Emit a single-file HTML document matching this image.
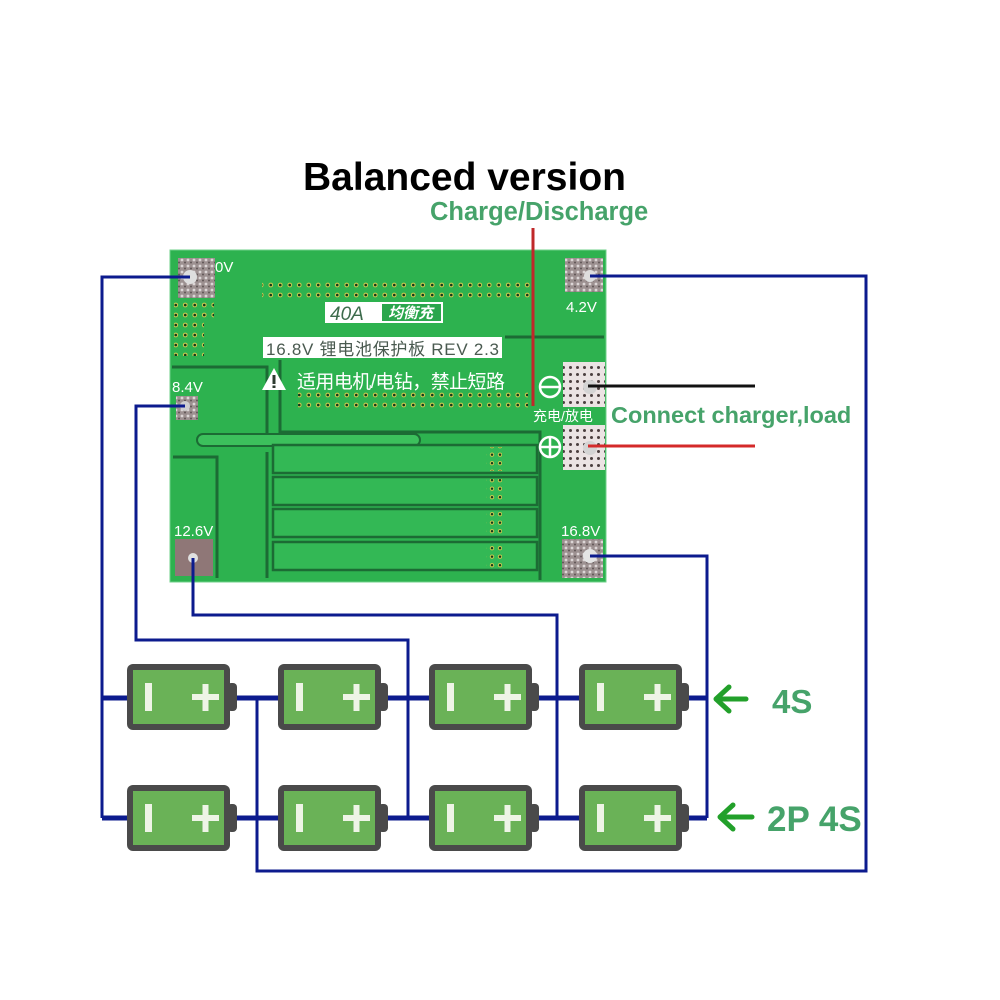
<!DOCTYPE html>
<html>
<head>
<meta charset="utf-8">
<style>
  html,body{margin:0;padding:0;background:#fff;}
  svg{display:block;}
  text{font-family:"Liberation Sans","Noto Sans CJK SC",sans-serif;}
</style>
</head>
<body>
<svg width="1000" height="1000" viewBox="0 0 1000 1000" xmlns="http://www.w3.org/2000/svg">
  <defs>
    <pattern id="dots" x="0" y="0" width="9.5" height="10" patternUnits="userSpaceOnUse">
      <circle cx="4.75" cy="5" r="2.4" fill="#c4c64e"/>
      <circle cx="4.75" cy="5" r="1.3" fill="#123a1c"/>
    </pattern>
    <pattern id="dots2" x="0" y="0" width="8" height="8.5" patternUnits="userSpaceOnUse">
      <circle cx="4" cy="4.2" r="2.2" fill="#c4c64e"/>
      <circle cx="4" cy="4.2" r="1.2" fill="#123a1c"/>
    </pattern>
    <pattern id="speck" x="0" y="0" width="6" height="6" patternUnits="userSpaceOnUse">
      <rect width="6" height="6" fill="#9d9191"/>
      <circle cx="2" cy="2" r="1.4" fill="#dcd6d6"/>
      <circle cx="5" cy="4.5" r="1" fill="#5f5555"/>
    </pattern>
    <pattern id="pinkpad" x="0" y="0" width="7" height="7" patternUnits="userSpaceOnUse">
      <rect width="7" height="7" fill="#ebe3e3"/>
      <circle cx="3.5" cy="3.5" r="1.5" fill="#4b3f3f"/>
    </pattern>
  </defs>

  <!-- Titles -->
  <text x="303" y="190" font-size="39" font-weight="bold" fill="#000">Balanced version</text>
  <text x="430" y="220" font-size="25.5" font-weight="bold" fill="#46a36a">Charge/Discharge</text>

  <!-- PCB -->
  <rect x="170" y="250" width="436" height="332" fill="#2db24f" stroke="#6fd08a" stroke-width="1"/>
  <g fill="none" stroke="#1c6b34" stroke-width="3">
    <path d="M505,337 H604"/>
    <path d="M172,367 H267 V440"/>
    <path d="M280,360 V432 H540 V580"/>
    <path d="M173,457 H217 V578"/>
    <path d="M267,452 V578"/>
  </g>
  <rect x="197" y="434" width="223" height="12" rx="6" fill="#3cc05c" stroke="#1c6b34" stroke-width="2"/>
  <g fill="#33b855" stroke="#1c6b34" stroke-width="2.5">
    <rect x="273" y="445" width="264" height="28"/>
    <rect x="273" y="477" width="264" height="28"/>
    <rect x="273" y="509" width="264" height="28"/>
    <rect x="273" y="542" width="264" height="28"/>
  </g>
  <rect x="262" y="278" width="268" height="20" fill="url(#dots)"/>
  <rect x="298" y="392" width="230" height="20" fill="url(#dots)"/>
  <rect x="174" y="298" width="40" height="22" fill="url(#dots)"/>
  <rect x="174" y="320" width="30" height="36" fill="url(#dots)"/>
  <rect x="486" y="447" width="16" height="24" fill="url(#dots2)"/>
  <rect x="486" y="479" width="16" height="24" fill="url(#dots2)"/>
  <rect x="486" y="511" width="16" height="24" fill="url(#dots2)"/>
  <rect x="486" y="544" width="16" height="24" fill="url(#dots2)"/>

  <!-- labels on board -->
  <rect x="325" y="302" width="118" height="21" fill="#fff"/>
  <text x="330" y="320" font-size="19" font-style="italic" fill="#3d6b4c">40A</text>
  <rect x="382" y="304" width="59" height="17" fill="#2aa64c"/>
  <text x="388" y="318" font-size="15" font-weight="bold" font-style="italic" fill="#fff">均衡充</text>

  <rect x="263" y="337" width="239" height="21" fill="#fff"/>
  <text x="266" y="355" font-size="17" fill="#4a5a50" textLength="233">16.8V 锂电池保护板 REV 2.3</text>

  <polygon points="274,368 262,390 286,390" fill="#fff"/>
  <rect x="272.5" y="375" width="3" height="9" fill="#2d3b30"/>
  <rect x="272.5" y="385.5" width="3" height="2.5" fill="#2d3b30"/>
  <text x="297" y="388" font-size="19" fill="#fff" textLength="208">适用电机/电钻，禁止短路</text>

  <!-- pads -->
  <rect x="178" y="258" width="37" height="40" fill="url(#speck)"/>
  <circle cx="190" cy="277" r="7" fill="#dedede"/>
  <text x="215" y="272" font-size="15" fill="#fff">0V</text>

  <rect x="565" y="258" width="38" height="34" fill="url(#speck)"/>
  <circle cx="590" cy="276" r="6" fill="#dedede"/>
  <text x="566" y="312" font-size="15" fill="#fff">4.2V</text>

  <rect x="176" y="396" width="22" height="24" fill="url(#speck)"/>
  <circle cx="185" cy="406" r="5" fill="#cfcfcf"/>
  <text x="172" y="392" font-size="15" fill="#fff">8.4V</text>

  <rect x="175" y="539" width="38" height="37" fill="#8f7777"/>
  <circle cx="193" cy="558" r="5" fill="#e0e0e0"/>
  <text x="174" y="536" font-size="15" fill="#fff">12.6V</text>

  <rect x="562" y="539" width="41" height="39" fill="url(#speck)"/>
  <circle cx="590" cy="556" r="7" fill="#e4e4e4"/>
  <text x="561" y="536" font-size="15" fill="#fff">16.8V</text>

  <rect x="563" y="362" width="42" height="45" fill="url(#pinkpad)"/>
  <circle cx="590" cy="387" r="7" fill="#d4d4d4"/>
  <rect x="563" y="425" width="42" height="45" fill="url(#pinkpad)"/>
  <circle cx="590" cy="448" r="7" fill="#d4d4d4"/>
  <text x="533" y="421" font-size="14" fill="#fff">充电/放电</text>

  <circle cx="550" cy="387" r="10" fill="none" stroke="#fff" stroke-width="2.5"/>
  <line x1="541" y1="387" x2="559" y2="387" stroke="#fff" stroke-width="2.5"/>
  <circle cx="550" cy="447" r="10" fill="none" stroke="#fff" stroke-width="2.5"/>
  <line x1="541" y1="447" x2="559" y2="447" stroke="#fff" stroke-width="2.5"/>
  <line x1="550" y1="438" x2="550" y2="456" stroke="#fff" stroke-width="2.5"/>

  <line x1="533" y1="228" x2="533" y2="406" stroke="#c0282a" stroke-width="3"/>
  <line x1="588" y1="386" x2="755" y2="386" stroke="#111" stroke-width="3"/>
  <line x1="588" y1="446" x2="755" y2="446" stroke="#d42a2a" stroke-width="3"/>
  <text x="611" y="423" font-size="23.5" font-weight="bold" fill="#46a36a">Connect charger,load</text>

  <!-- Wires -->
  <g fill="none" stroke="#0c1b8e" stroke-width="3" stroke-linejoin="miter">
    <path d="M190,277 H102 V818"/>
    <path d="M185,406 H136 V640 H408 V818"/>
    <path d="M193,558 V615 H557 V818"/>
    <path d="M590,556 H707 V818"/>
    <path d="M590,276 H866 V871 H257 V698"/>
  </g>
  <line x1="102" y1="698" x2="707" y2="698" stroke="#0c1b8e" stroke-width="5"/>
  <line x1="102" y1="818" x2="707" y2="818" stroke="#0c1b8e" stroke-width="5"/>

  <!-- Batteries -->
  <g id="bat">
    <g transform="translate(127,664)">
      <rect x="0" y="0" width="103" height="66" rx="6" fill="#4a4a4a"/>
      <rect x="6" y="6" width="91" height="54" fill="#6ab257"/>
      <rect x="100" y="19" width="10" height="28" rx="4" fill="#4a4a4a"/>
      <rect x="18" y="19" width="7" height="28" fill="#eef4e6"/>
      <rect x="65" y="30" width="27" height="6" fill="#eef4e6"/>
      <rect x="75.5" y="20" width="6" height="27" fill="#eef4e6"/>
    </g>
  </g>
  <use href="#bat" x="151" y="0"/>
  <use href="#bat" x="302" y="0"/>
  <use href="#bat" x="452" y="0"/>
  <use href="#bat" x="0" y="121"/>
  <use href="#bat" x="151" y="121"/>
  <use href="#bat" x="302" y="121"/>
  <use href="#bat" x="452" y="121"/>

  <!-- Arrows and labels -->
  <g fill="none" stroke="#22a02a" stroke-width="5" stroke-linecap="round" stroke-linejoin="round">
    <path d="M746,699 H718"/>
    <path d="M729,687 L716,699 L729,711"/>
    <path d="M752,817 H722"/>
    <path d="M733,805 L720,817 L733,829"/>
  </g>
  <text x="772" y="713" font-size="33" font-weight="bold" fill="#46a36a">4S</text>
  <text x="767" y="831" font-size="35" font-weight="bold" fill="#46a36a">2P 4S</text>
</svg>
</body>
</html>
